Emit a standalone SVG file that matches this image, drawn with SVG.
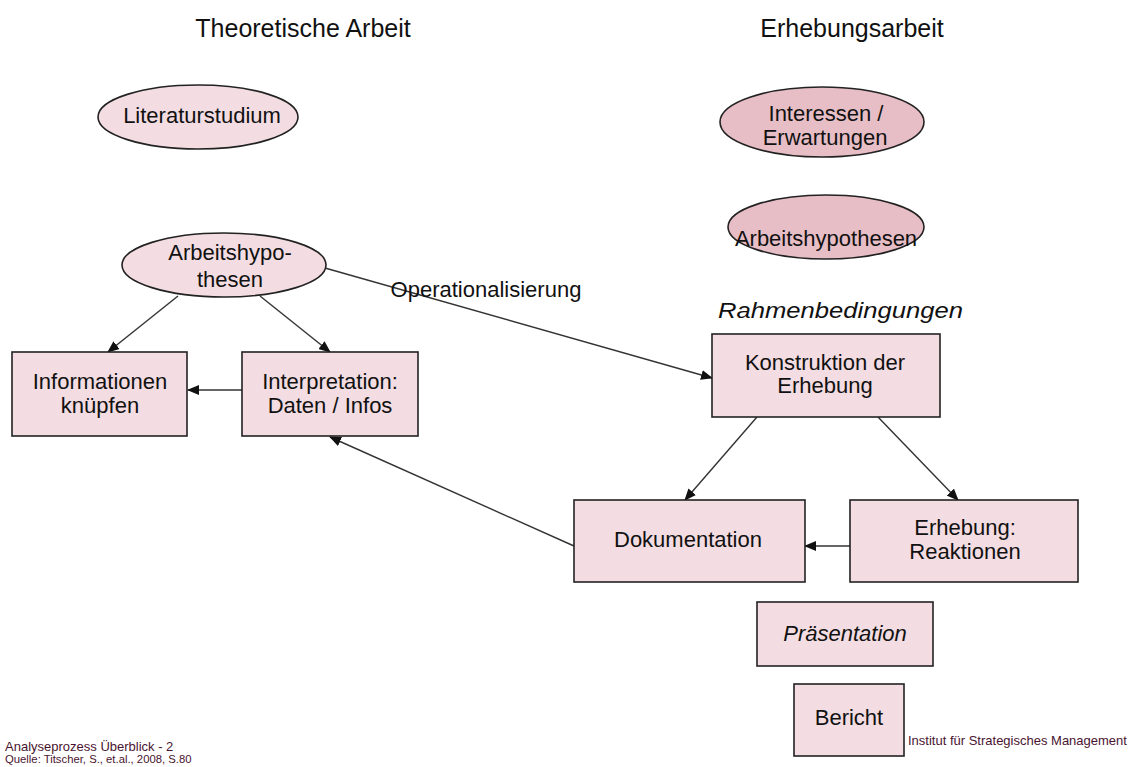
<svg xmlns="http://www.w3.org/2000/svg" width="1131" height="767" viewBox="0 0 1131 767">
<defs>
<marker id="ah" markerWidth="12" markerHeight="10" refX="11" refY="5" orient="auto" markerUnits="userSpaceOnUse">
<path d="M0,0 L12,5 L0,10 Z" fill="#111"/>
</marker>
<style>
.t{font-family:"Liberation Sans",Arial,sans-serif;font-size:22px;fill:#111;text-anchor:middle}
.i{font-style:italic}
.h{font-family:"Liberation Sans",Arial,sans-serif;font-size:25px;fill:#111;text-anchor:middle}
.f{font-family:"Liberation Sans",Arial,sans-serif;fill:#4a1430}
.lt{fill:#F3DDE2;stroke:#222;stroke-width:1.6}
.dk{fill:#E8BEC6;stroke:#222;stroke-width:1.6}
.c{stroke:#333;stroke-width:1.4;fill:none;marker-end:url(#ah)}
</style>
</defs>
<rect width="1131" height="767" fill="#fff"/>
<text class="h" x="303" y="37">Theoretische Arbeit</text>
<text class="h" x="852" y="37">Erhebungsarbeit</text>
<g id="connectors">
<line class="c" x1="178" y1="296" x2="108" y2="352"/>
<line class="c" x1="260" y1="296" x2="330" y2="352"/>
<line class="c" x1="242" y1="390" x2="188" y2="390"/>
<line class="c" x1="325" y1="268" x2="712" y2="378"/>
<line class="c" x1="757" y1="417" x2="685" y2="500"/>
<line class="c" x1="878" y1="417" x2="958" y2="500"/>
<line class="c" x1="850" y1="546" x2="805" y2="546"/>
<line class="c" x1="574" y1="546" x2="330" y2="437"/>
<text class="t" x="486" y="297">Operationalisierung</text>
</g>
<g id="literaturstudium">
<ellipse class="lt" cx="198" cy="117" rx="100" ry="32"/>
<text class="t" x="202" y="123">Literaturstudium</text>
</g>
<g id="interessen">
<ellipse class="dk" cx="822" cy="122" rx="102" ry="35"/>
<text class="t" x="826" y="121">Interessen /</text>
<text class="t" x="825" y="145">Erwartungen</text>
</g>
<g id="arbeitshypothesen-r">
<ellipse class="dk" cx="826" cy="227" rx="98" ry="32"/>
<text class="t" x="826" y="246" font-size="23">Arbeitshypothesen</text>
</g>
<g id="arbeitshypothesen-l">
<ellipse class="lt" cx="224" cy="265" rx="102" ry="32"/>
<text class="t" x="230" y="260">Arbeitshypo-</text>
<text class="t" x="230" y="287">thesen</text>
</g>
<g id="informationen">
<rect class="lt" x="12" y="352" width="175" height="84"/>
<text class="t" x="100" y="389">Informationen</text>
<text class="t" x="100" y="413">knüpfen</text>
</g>
<g id="interpretation">
<rect class="lt" x="242" y="352" width="176" height="84"/>
<text class="t" x="330" y="389">Interpretation:</text>
<text class="t" x="330" y="413">Daten / Infos</text>
</g>
<text class="t i" x="718" y="318" font-size="25.5" style="text-anchor:start" textLength="245" lengthAdjust="spacingAndGlyphs">Rahmenbedingungen</text>
<g id="konstruktion">
<rect class="lt" x="712" y="334" width="228" height="83"/>
<text class="t" x="825" y="370">Konstruktion der</text>
<text class="t" x="825" y="393">Erhebung</text>
</g>
<g id="dokumentation">
<rect class="lt" x="574" y="500" width="231" height="82"/>
<text class="t" x="688" y="547">Dokumentation</text>
</g>
<g id="erhebung">
<rect class="lt" x="850" y="500" width="228" height="82"/>
<text class="t" x="965" y="535">Erhebung:</text>
<text class="t" x="965" y="559">Reaktionen</text>
</g>
<g id="praesentation">
<rect class="lt" x="757" y="602" width="176" height="64"/>
<text class="t i" x="845" y="641">Präsentation</text>
</g>
<g id="bericht">
<rect class="lt" x="794" y="684" width="110" height="72"/>
<text class="t" x="849" y="725">Bericht</text>
</g>
<text class="f" x="5" y="751" font-size="13">Analyseprozess Überblick - 2</text>
<text class="f" x="5" y="763" font-size="11.3">Quelle: Titscher, S., et.al., 2008, S.80</text>
<text class="f" x="908" y="745" font-size="13">Institut für Strategisches Management</text>
</svg>
